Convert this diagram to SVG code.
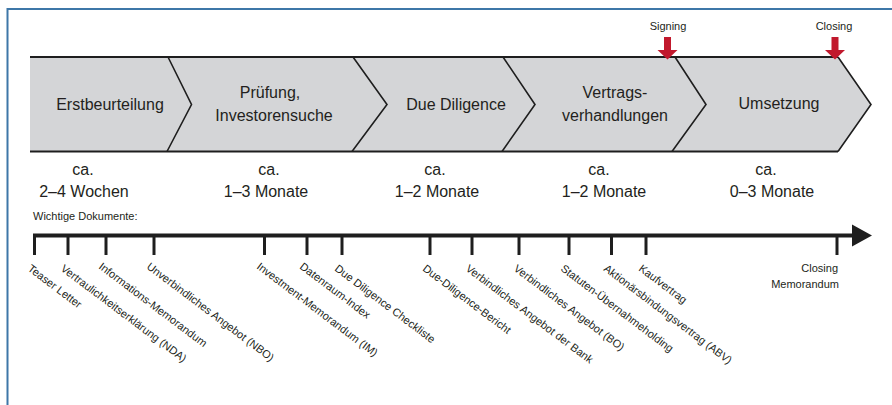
<svg xmlns="http://www.w3.org/2000/svg" width="892" height="405" viewBox="0 0 892 405">
<defs>
<style>
text{font-family:"Liberation Sans",Arial,sans-serif;fill:#231f20}
.ph{font-size:16px;text-anchor:middle}
.du{font-size:16px;text-anchor:middle}
.sm{font-size:11px}
.mk{font-size:11px;text-anchor:middle}
.sep{fill:none;stroke:#1e1e1e;stroke-width:1.6;stroke-linejoin:miter}
.edge{stroke:#1e1e1e;stroke-width:2}
.tick{stroke:#1e1e1e;stroke-width:3}
.red{fill:#c1192d}
</style>
</defs>
<rect width="892" height="405" fill="#ffffff"/>
<path d="M7.5,405 V9 H892" fill="none" stroke="#3e77a8" stroke-width="2"/>

<g id="band">
<polygon points="30,57 838,57 871,104.5 838,151.5 30,151.5" fill="#d4d5d7"/>
<line class="edge" x1="30" y1="57" x2="838" y2="57"/>
<line class="edge" x1="30" y1="151.5" x2="838" y2="151.5"/>
</g>

<g id="phase-erstbeurteilung">
<polyline class="sep" points="168,57 191.5,104.5 167,151.5"/>
<text class="ph" x="110" y="110">Erstbeurteilung</text>
<text class="du" x="83" y="175">ca.</text>
<text class="du" x="84" y="197">2–4 Wochen</text>
</g>
<g id="phase-pruefung">
<polyline class="sep" points="353,57 387,104.5 352,151.5"/>
<text class="ph" x="270" y="98">Prüfung,</text>
<text class="ph" x="274" y="120.5">Investorensuche</text>
<text class="du" x="269" y="175">ca.</text>
<text class="du" x="266" y="197">1–3 Monate</text>
</g>
<g id="phase-due-diligence">
<polyline class="sep" points="503,57 535,104.5 502,151.5"/>
<text class="ph" x="456" y="109.5">Due Diligence</text>
<text class="du" x="435" y="175">ca.</text>
<text class="du" x="437" y="197">1–2 Monate</text>
</g>
<g id="phase-vertragsverhandlungen">
<polyline class="sep" points="675,57 706,104.5 672,151.5"/>
<text class="ph" x="615" y="98">Vertrags-</text>
<text class="ph" x="615" y="120.5">verhandlungen</text>
<text class="du" x="599" y="175">ca.</text>
<text class="du" x="604" y="197">1–2 Monate</text>
</g>
<g id="phase-umsetzung">
<polyline class="sep" points="838,57 871,104.5 838,151.5"/>
<text class="ph" x="779" y="109">Umsetzung</text>
<text class="du" x="766" y="175">ca.</text>
<text class="du" x="772" y="197">0–3 Monate</text>
</g>

<g id="marker-signing">
<text class="mk" x="668" y="30">Signing</text>
<polygon class="red" points="664,37 671,37 671,50 677.5,50 667.5,59.5 657.5,50 664,50"/>
</g>
<g id="marker-closing">
<text class="mk" x="834" y="30">Closing</text>
<polygon class="red" points="831.5,37 838.5,37 838.5,50 845,50 835,59.5 825,50 831.5,50"/>
</g>

<g id="timeline">
<text class="sm" x="33" y="220">Wichtige Dokumente:</text>
<line x1="33" y1="235.5" x2="854" y2="235.5" stroke="#1e1e1e" stroke-width="4"/>
<polygon points="852,224.5 872,235.5 852,246.5" fill="#1e1e1e"/>
</g>

<g id="connectors">
<line class="tick" x1="34.5" y1="234" x2="34.5" y2="255"/>
<line class="tick" x1="68" y1="234" x2="68" y2="255"/>
<line class="tick" x1="106" y1="234" x2="106" y2="255"/>
<line class="tick" x1="154" y1="234" x2="154" y2="255"/>
<line class="tick" x1="264.5" y1="234" x2="264.5" y2="255"/>
<line class="tick" x1="307" y1="234" x2="307" y2="255"/>
<line class="tick" x1="342" y1="234" x2="342" y2="255"/>
<line class="tick" x1="430" y1="234" x2="430" y2="255"/>
<line class="tick" x1="472" y1="234" x2="472" y2="255"/>
<line class="tick" x1="519" y1="234" x2="519" y2="255"/>
<line class="tick" x1="569" y1="234" x2="569" y2="255"/>
<line class="tick" x1="611.5" y1="234" x2="611.5" y2="255"/>
<line class="tick" x1="646" y1="234" x2="646" y2="255"/>
<line class="tick" x1="837" y1="234" x2="837" y2="255"/>
</g>

<g id="doc-teaser"><text class="sm" transform="translate(27,270) rotate(37)">Teaser Letter</text></g>
<g id="doc-nda"><text class="sm" transform="translate(60,270) rotate(37)">Vertraulichkeitserklärung (NDA)</text></g>
<g id="doc-im1"><text class="sm" transform="translate(98,268) rotate(37)">Informations-Memorandum</text></g>
<g id="doc-nbo"><text class="sm" transform="translate(146,268) rotate(37)">Unverbindliches Angebot (NBO)</text></g>
<g id="doc-im2"><text class="sm" transform="translate(256,268) rotate(37)">Investment-Memorandum (IM)</text></g>
<g id="doc-index"><text class="sm" transform="translate(299,268) rotate(37)">Datenraum-Index</text></g>
<g id="doc-checkliste"><text class="sm" transform="translate(334,270) rotate(37)">Due Diligence Checkliste</text></g>
<g id="doc-bericht"><text class="sm" transform="translate(422,270) rotate(37)">Due-Diligence-Bericht</text></g>
<g id="doc-bank"><text class="sm" transform="translate(465,270) rotate(37)">Verbindliches Angebot der Bank</text></g>
<g id="doc-bo"><text class="sm" transform="translate(513,270) rotate(37)">Verbindliches Angebot (BO)</text></g>
<g id="doc-holding"><text class="sm" transform="translate(560,270) rotate(37)">Statuten-Übernahmeholding</text></g>
<g id="doc-abv"><text class="sm" transform="translate(603,270) rotate(37)">Aktionärsbindungsvertrag (ABV)</text></g>
<g id="doc-kauf"><text class="sm" transform="translate(638,270) rotate(37)">Kaufvertrag</text></g>
<g id="doc-closing">
<text class="sm" x="838" y="272" text-anchor="end">Closing</text>
<text class="sm" x="839" y="288" text-anchor="end">Memorandum</text>
</g>
</svg>
